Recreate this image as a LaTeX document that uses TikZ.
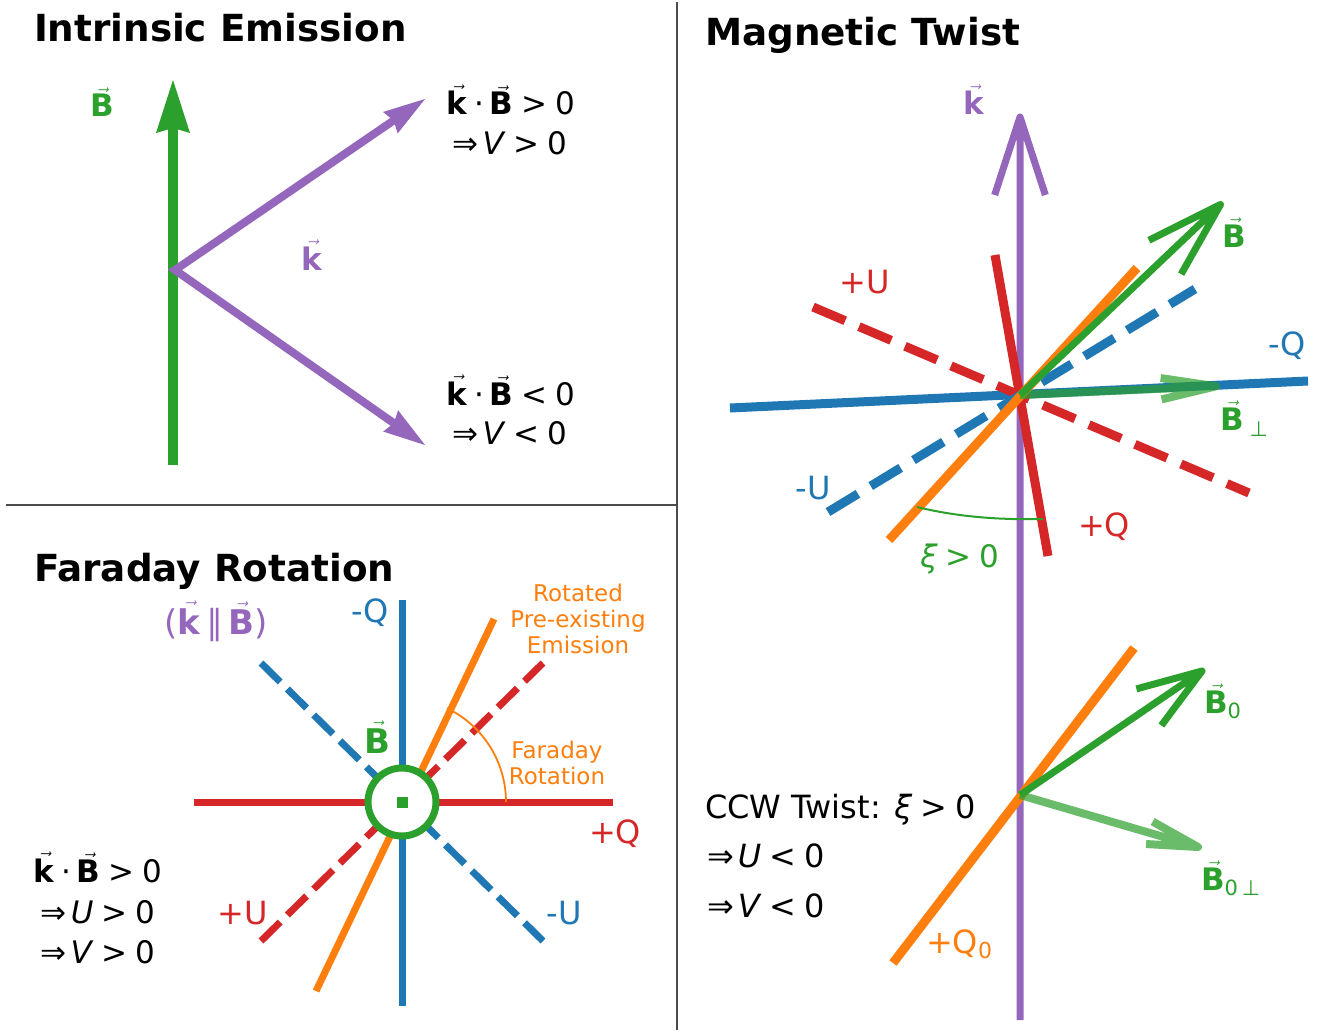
\documentclass[tikz,border=0pt]{standalone}
\usepackage{fontspec}
\setmainfont{DejaVu Sans}
\usetikzlibrary{calc}
\definecolor{tblue}{HTML}{1F77B4}
\definecolor{torange}{HTML}{FF7F0E}
\definecolor{tgreen}{HTML}{2CA02C}
\definecolor{tred}{HTML}{D62728}
\definecolor{tpurple}{HTML}{9467BD}
\newcommand\va[1]{\ensuremath{\vec{\mbox{#1}}}}
\newcommand\fsz[1]{\fontsize{#1}{#1}\selectfont}
\newcommand\kdB{\va{\textbf{k}}\hspace{6pt}·\hspace{6pt}\va{\textbf{B}}}
\newcommand\rel[1]{\hspace{8pt}#1\hspace{8pt}}
\begin{document}
\begin{tikzpicture}[x=1pt,y=-1pt,
  txt/.style={inner sep=0pt, outer sep=0pt, anchor=base},
  txtw/.style={inner sep=0pt, outer sep=0pt, anchor=base west},
  ttl/.style={txtw, font=\fsz{37.3}\bfseries},
  eq/.style={txt, font=\fsz{31}},
  eqw/.style={txtw, font=\fsz{31}},
  ccw/.style={txtw, font=\fsz{32}},
  lab/.style={txt, font=\fsz{32}},
  note/.style={txt, font=\fsz{23}, text=torange},
  divider/.style={line width=1.2pt, draw=black!70},
  fr/.style={line width=7pt},
  frdash/.style={line width=7pt, dash pattern=on 27pt off 10pt},
  mt/.style={line width=9pt},
  mtdash/.style={line width=9pt, dash pattern=on 35pt off 15pt},
  openarrow/.style={line width=7pt, line join=round, tgreen},
  fadedarrow/.style={line width=8pt, line join=round, tgreen, opacity=0.7}
]
\useasboundingbox (0,0) rectangle (1330,1030);
\fill[white] (0,0) rectangle (1330,1030);

% dividers
\coordinate (dvt) at (677,2);
\coordinate (dvb) at (677,1030);
\coordinate (dhl) at (6,505);
\coordinate (dhr) at (677,505);
\draw[divider] (dvt) -- (dvb);
\draw[divider] (dhl) -- (dhr);

%%%%%%%% Panel 1: Intrinsic Emission
\node[ttl] (t1) at (34,42) {Intrinsic Emission};
\coordinate (B1o) at (173,465);
\coordinate (B1t) at (173,80);
\draw[line width=10pt, tgreen] (B1o) -- ($(B1t)!44pt!(B1o)$);
\fill[tgreen] ($(B1t)!53pt!(B1o)!17pt!90:(B1o)$) -- (B1t) -- ($(B1t)!53pt!(B1o)!17pt!-90:(B1o)$) -- ($(B1t)!48pt!(B1o)$) -- cycle;
\coordinate (k1o) at (175,270);
\coordinate (k1u) at (425,99);
\coordinate (k1d) at (425,445);
\draw[line width=8pt, tpurple, line join=miter] ($(k1u)!34pt!(k1o)$) -- (k1o) -- ($(k1d)!34pt!(k1o)$);
\fill[tpurple] ($(k1u)!42pt!(k1o)!13pt!90:(k1o)$) -- (k1u) -- ($(k1u)!42pt!(k1o)!13pt!-90:(k1o)$) -- ($(k1u)!38pt!(k1o)$) -- cycle;
\fill[tpurple] ($(k1d)!42pt!(k1o)!13pt!90:(k1o)$) -- (k1d) -- ($(k1d)!42pt!(k1o)!13pt!-90:(k1o)$) -- ($(k1d)!38pt!(k1o)$) -- cycle;
\node[eq, text=tgreen] (lB1) at (102,117) {\va{\textbf{B}}};
\node[eq, text=tpurple] (lk1) at (312,270) {\va{\textbf{k}}};
\node[eq] (e1a) at (511,115) {\kdB\rel{>}0};
\node[eq] (e1b) at (510,154) {⇒\hspace{4pt}\textit{V}\rel{>}0};
\node[eq] (e1c) at (511,405) {\kdB\rel{<}0};
\node[eq] (e1d) at (510,444) {⇒\hspace{4pt}\textit{V}\rel{<}0};

%%%%%%%% Panel 2: Faraday Rotation
\node[ttl] (t2) at (34,581) {Faraday Rotation};
\coordinate (F) at (402,802);
\coordinate (Fql) at (194,802);
\coordinate (Fqr) at (613,802);
\coordinate (Fvt) at (402,600);
\coordinate (Fvb) at (402,1006);
\coordinate (Fua) at (261,663);
\coordinate (Fub) at (543,941);
\coordinate (Fuc) at (261,941);
\coordinate (Fud) at (543,663);
\coordinate (Foa) at (316,991);
\coordinate (Fob) at (494,619);
\draw[fr, tred] (Fql) -- (Fqr);
\draw[fr, tblue] (Fvt) -- (Fvb);
\draw[frdash, tblue] (Fua) -- (Fub);
\draw[frdash, tred] (Fuc) -- (Fud);
\draw[fr, torange] (Foa) -- (Fob);
\draw[torange, line width=1.8pt] ($(F)+(104,0)$) arc[start angle=0, end angle=-64.4, radius=104];
\draw[tgreen, line width=7pt, fill=white] (F) circle[radius=34];
\fill[tgreen] ($(F)+(-5.5,-5.5)$) rectangle ($(F)+(5.5,5.5)$);
\node[txt, font=\fsz{34}, text=tpurple] (kpB) at (216,634) {(\va{\textbf{k}}\hspace{5pt}∥\hspace{5pt}\va{\textbf{B}})};
\node[lab, text=tblue] (lmQ2) at (370,622) {-Q};
\node[txt, font=\fsz{34}, text=tgreen] (lB2) at (377,753) {\va{\textbf{B}}};
\node[lab, text=tred] (lpQ2) at (615,843) {+Q};
\node[lab, text=tred] (lpU2) at (243,924) {+U};
\node[lab, text=tblue] (lmU2) at (564,924) {-U};
\node[note] (r1) at (578,601) {Rotated};
\node[note] (r2) at (578,627) {Pre-existing};
\node[note] (r3) at (578,653) {Emission};
\node[note] (fa1) at (557,758) {Faraday};
\node[note] (fa2) at (557,784) {Rotation};
\node[eq] (e2a) at (98,882) {\kdB\rel{>}0};
\node[eq] (e2b) at (98,923) {⇒\hspace{4pt}\textit{U}\rel{>}0};
\node[eq] (e2c) at (98,963) {⇒\hspace{4pt}\textit{V}\rel{>}0};

%%%%%%%% Panel 3: Magnetic Twist
\node[ttl] (t3) at (705,46) {Magnetic Twist};
\coordinate (C) at (1020,395);
\coordinate (kbot) at (1020,1020);
\coordinate (kV) at (1020,117);
\draw[line width=7pt, line join=round, tpurple] (kbot) -- (kV) ($(kV)!82pt!18:(kbot)$) -- (kV) -- ($(kV)!82pt!-18:(kbot)$);
\coordinate (qa) at (730,408);
\coordinate (qb) at (1308,381);
\coordinate (qc) at (995,255);
\coordinate (qd) at (1048,556);
\coordinate (ua) at (813,307);
\coordinate (ub) at (1249,493);
\coordinate (uc) at (1195,289);
\coordinate (ud) at (828,512);
\coordinate (oa) at (889,540);
\coordinate (ob) at (1137,268);
\draw[mt, tblue] (qa) -- (qb);
\draw[mt, tred] (qc) -- (qd);
\draw[mtdash, tred] (ua) -- (ub);
\draw[mtdash, tblue] (ud) -- (uc);
\draw[mt, torange] (oa) -- (ob);
\coordinate (BV) at (1220.5,204.5);
\draw[openarrow] (C) -- (BV) ($(BV)!80pt!17:(C)$) -- (BV) -- ($(BV)!80pt!-17:(C)$);
\coordinate (BpV) at (1216,386.3);
\draw[fadedarrow] (C) -- (BpV) ($(BpV)!56pt!11:(C)$) -- (BpV) -- ($(BpV)!56pt!-11:(C)$);
\coordinate (xa) at (917,507);
\coordinate (xb) at (1043,519);
\draw[tgreen, line width=2pt] (xa) .. controls (958,517) and (1000,520) .. (xb);
\node[eq, text=tpurple] (lk3) at (974,115) {\va{\textbf{k}}};
\node[eq, text=tgreen] (lB3) at (1234,247) {\va{\textbf{B}}};
\node[lab, text=tblue] (lmQ3) at (1287,355) {-Q};
\node[eqw, text=tgreen] (lBp3) at (1220,430) {\va{\textbf{B}}\hspace{6pt}\raisebox{-6pt}{\fsz{21}⊥}};
\node[lab, text=tred] (lpU3) at (865,293) {+U};
\node[lab, text=tblue] (lmU3) at (813,499) {-U};
\node[lab, text=tred] (lpQ3) at (1104,536) {+Q};
\node[eq, text=tgreen] (lxi) at (960,567) {\textit{ξ}\rel{>}0};

\coordinate (C0) at (1020,795);
\coordinate (o0a) at (893,963);
\coordinate (o0b) at (1134,648);
\draw[mt, torange] (o0a) -- (o0b);
\coordinate (B0V) at (1202,671);
\draw[openarrow] (C0) -- (B0V) ($(B0V)!68pt!19:(C0)$) -- (B0V) -- ($(B0V)!68pt!-19:(C0)$);
\coordinate (B0pV) at (1198,847);
\draw[fadedarrow] (C0) -- (B0pV) ($(B0pV)!52pt!13:(C0)$) -- (B0pV) -- ($(B0pV)!52pt!-13:(C0)$);
\node[eqw, text=tgreen] (lB0) at (1204,713) {\va{\textbf{B}}\raisebox{-5pt}{\fsz{21}0}};
\node[eqw, text=tgreen] (lB0p) at (1201,890) {\va{\textbf{B}}\raisebox{-5pt}{\fsz{21}0\hspace{4pt}⊥}};
\node[txtw, font=\fsz{32}, text=torange] (lQ0) at (926,953) {+Q\raisebox{-5pt}{\fsz{22}0}};
\node[ccw] (ccw1) at (705,818) {CCW Twist: \textit{ξ}\rel{>}0};
\node[ccw] (ccw2) at (707,867) {⇒\hspace{4pt}\textit{U}\rel{<}0};
\node[ccw] (ccw3) at (707,917) {⇒\hspace{4pt}\textit{V}\rel{<}0};
\end{tikzpicture}
\end{document}
